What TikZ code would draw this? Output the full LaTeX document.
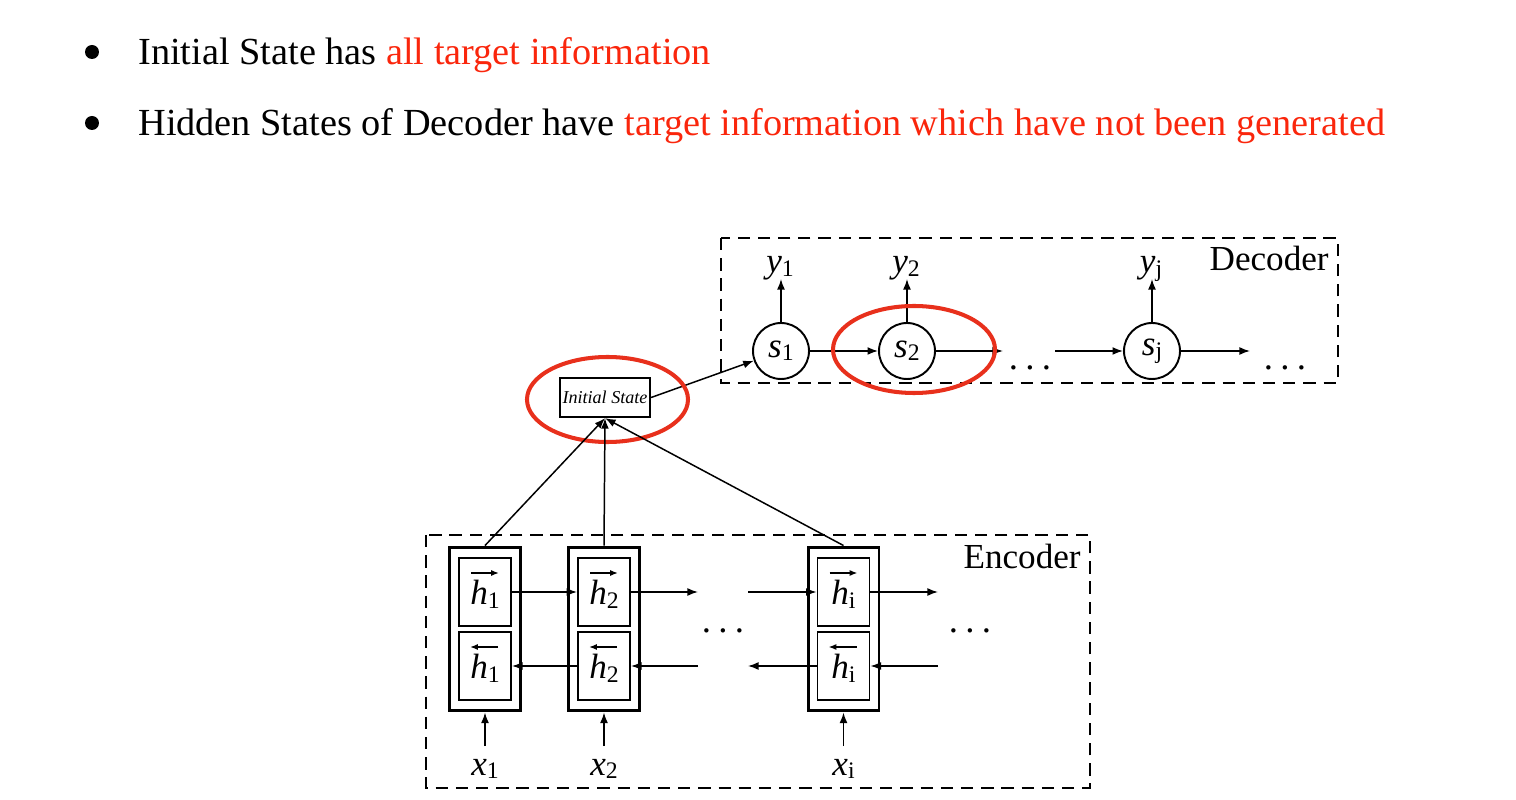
\documentclass[tikz,border=0pt]{standalone}
\usepackage{fontspec}
\setmainfont{Liberation Serif}
\usetikzlibrary{arrows.meta,calc}
\definecolor{hl}{RGB}{250,38,12}
\definecolor{ring}{RGB}{232,48,28}
\newcommand\subx[1]{\raisebox{-0.2ex}{\fontsize{13.5}{13.5}\selectfont #1}}
\newcommand\bigdots{.\hspace{0.2em}.\hspace{0.2em}.}
\tikzset{
  arr/.style={-{Latex[length=6pt,width=4.5pt]},line width=0.85pt},
  harr/.style={-{Latex[length=4.5pt,width=3.5pt]},line width=0.9pt},
  dbox/.style={draw,dash pattern=on 7pt off 4.5pt,line width=1pt},
  lbl/.style={font=\fontsize{20}{20}\selectfont,inner sep=0pt},
  outerbox/.style={draw,line width=1.7pt,minimum width=1.42cm,minimum height=3.28cm,inner sep=0pt},
  innerbox/.style={draw,line width=1.1pt,minimum width=1.04cm,minimum height=1.36cm,inner sep=0pt},
  state/.style={draw,circle,line width=1.1pt,minimum size=1.12cm,inner sep=0pt,font=\fontsize{20}{20}\selectfont},
  ringst/.style={draw=ring,line width=2.3pt},
  bullettext/.style={anchor=base west,inner sep=0pt,font=\fontsize{21.8}{24}\selectfont},
  bulletdot/.style={circle,fill,inner sep=0pt,minimum size=0.28cm},
  dotsst/.style={anchor=base,inner sep=0pt,font=\fontsize{21}{22}\selectfont}
}
\begin{document}
\begin{tikzpicture}[x=0.02cm,y=-0.02cm]
\useasboundingbox (0,0) rectangle (1516,800);
% bullets
\node[bulletdot] (b1) at (92,52) {};
\node[bulletdot] (b2) at (92,123) {};
\node[bullettext] (t1) at (138,65) {Initial State has \textcolor{hl}{all target information}};
\node[bullettext] (t2) at (138,136) {Hidden States of Decoder have \textcolor{hl}{target information which have not been generated}};
% decoder
\draw[dbox] (721,238) rectangle (1338,383);
\node[lbl,anchor=base east] (dec) at (1329,271) {Decoder};
\node[state] (s1) at (781,351) {\textit{s}\subx{1}};
\node[state] (s2) at (907,351) {\textit{s}\subx{2}};
\node[state] (sj) at (1152,351) {\textit{s}\subx{j}};
\node[lbl,anchor=base] (y1) at (780,273) {\textit{y}\subx{1}};
\node[lbl,anchor=base] (y2) at (906,273) {\textit{y}\subx{2}};
\node[lbl,anchor=base] (yj) at (1151,273) {\textit{y}\subx{j}};
\coordinate (y1b) at (781,279);
\coordinate (y2b) at (907,279);
\coordinate (yjb) at (1152,279);
\draw[arr] (s1.north) -- (y1b);
\draw[arr] (s2.north) -- (y2b);
\draw[arr] (sj.north) -- (yjb);
\draw[arr] (s1) -- (s2);
\coordinate (s2o) at (1003,351);
\draw[arr] (s2) -- (s2o);
\node[dotsst] (d1) at (1030,370) {\bigdots};
\coordinate (sji) at (1055,351);
\draw[arr] (sji) -- (sj);
\coordinate (sjo) at (1250,351);
\draw[arr] (sj) -- (sjo);
\node[dotsst] (d2) at (1285,370) {\bigdots};
% initial state
\node[draw,line width=1.3pt,minimum width=1.8cm,minimum height=0.78cm,inner sep=0pt,font=\fontsize{10.3}{11}\selectfont\itshape] (is) at (605,397.5) {Initial State};
\draw[arr] (is.east) -- (s1);
\draw[ringst] (607.5,399.5) ellipse [x radius=80.5, y radius=42.5];
\draw[ringst] (914,349.5) ellipse [x radius=81, y radius=43.5];
% encoder
\draw[dbox] (426,535) rectangle (1090,788);
\node[lbl,anchor=base east] (enc) at (1081,569) {Encoder};
\foreach \n/\x/\s in {1/485/1,2/604/2,i/843.5/i}{
  \node[outerbox] (o\n) at (\x,629) {};
  \node[innerbox] (f\n) at (\x,592) {};
  \node[innerbox] (b\n) at (\x,666) {};
  \node[lbl,anchor=base] (fh\n) at (\x,605) {\textit{h}\subx{\s}};
  \node[lbl,anchor=base] (bh\n) at (\x,679) {\textit{h}\subx{\s}};
  \draw[harr] ($(f\n.center)+(-14,-19)$) -- ++(28,0);
  \draw[harr] ($(b\n.center)+(13,-19)$) -- ++(-28,0);
  \node[lbl,anchor=base] (x\n) at (\x,775) {\textit{x}\subx{\s}};
  \coordinate (xa\n) at (\x,746);
  \draw[arr] (xa\n) -- (o\n.south);
}
\draw[arr] (f1) -- (f2);
\coordinate (fo2) at (698,592);
\draw[arr] (f2) -- (fo2);
\coordinate (fii) at (748,592);
\draw[arr] (fii) -- (fi);
\coordinate (foi) at (938,592);
\draw[arr] (fi) -- (foi);
\draw[arr] (b2) -- (b1);
\coordinate (bi2) at (698,666);
\draw[arr] (bi2) -- (b2);
\coordinate (boi) at (748,666);
\draw[arr] (bi) -- (boi);
\coordinate (bii) at (938,666);
\draw[arr] (bii) -- (bi);
\node[dotsst] (d3) at (723,633) {\bigdots};
\node[dotsst] (d4) at (970,633) {\bigdots};
% to initial state
\draw[arr] (o1.north) -- (is.south);
\draw[arr] (o2.north) -- (is.south);
\draw[arr] (oi.north) -- (is.south);
\end{tikzpicture}
\end{document}
